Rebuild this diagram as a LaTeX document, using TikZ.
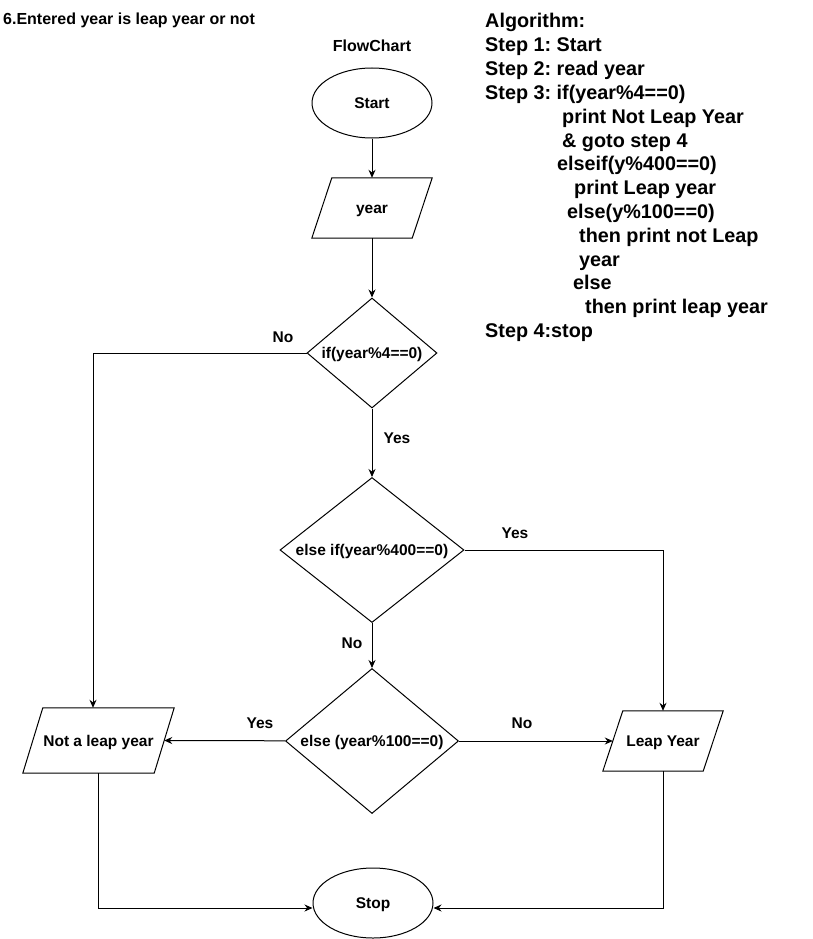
\documentclass[tikz,border=0pt]{standalone}
\usepackage{fontspec}
\setmainfont{Liberation Sans}
\usetikzlibrary{shapes.geometric,arrows.meta,calc}
\frenchspacing
\begin{document}
\begin{tikzpicture}[x=1pt,y=-1pt,
  every node/.style={font=\bfseries\fontsize{15.5}{18}\selectfont, inner sep=0pt,
                     text height=11pt, text depth=0pt},
  term/.style={draw, ellipse, minimum width=120pt, minimum height=70pt, line width=1pt},
  dec/.style={draw, diamond, line width=1pt},
  arr/.style={line width=1pt, -{Stealth[length=8pt,width=7pt]}},
  ln/.style={line width=1pt},
  alg/.style={anchor=base west, font=\bfseries\fontsize{19.8}{24}\selectfont},
  ttl/.style={font=\bfseries\fontsize{16}{19}\selectfont}
]
\path[use as bounding box] (0,0) rectangle (813,939);

% titles
\node[ttl, anchor=base west] (title) at (3,25) {6.Entered year is leap year or not};
\node[ttl, anchor=base] (fc) at (372,52) {FlowChart};

% algorithm
\node[alg] (a0) at (485,28) {Algorithm:};
\node[alg] (a1) at (485,51.8) {Step 1: Start};
\node[alg] (a2) at (485,75.6) {Step 2: read year};
\node[alg] (a3) at (485,99.4) {Step 3: if(year\%4==0)};
\node[alg] (a4) at (562,123.2) {print Not Leap Year};
\node[alg] (a5) at (562,147) {\& goto step 4};
\node[alg] (a6) at (557,170.8) {elseif(y\%400==0)};
\node[alg] (a7) at (574,194.6) {print Leap year};
\node[alg] (a8) at (567,218.4) {else(y\%100==0)};
\node[alg] (a9) at (579,242.2) {then print not Leap};
\node[alg] (a10) at (579,266) {year};
\node[alg] (a11) at (573,289.8) {else};
\node[alg] (a12) at (585,313.6) {then print leap year};
\node[alg] (a13) at (485,337.4) {Step 4:stop};

% flowchart nodes
\node[term] (start) at (372,103) {Start};
\node[minimum width=120pt, minimum height=60pt] (year) at (372,208) {year};
\draw[ln] (year.south west) -- ($(year.south east)+(-20,0)$) -- (year.north east)
          -- ($(year.north west)+(20,0)$) -- cycle;
\node[dec, aspect=1.18, minimum width=130pt, minimum height=110pt] (d1) at (372,353) {if(year\%4==0)};
\node[dec, aspect=1.27, minimum width=184pt, minimum height=145pt] (d2) at (372,550) {else if(year\%400==0)};
\node[dec, aspect=1.19, minimum width=173pt, minimum height=145pt] (d3) at (372,741) {else (year\%100==0)};
\node[minimum width=151pt, minimum height=65pt] (ny) at (98.5,740.5) {Not a leap year};
\draw[ln] (ny.south west) -- ($(ny.south east)+(-20,0)$) -- (ny.north east)
          -- ($(ny.north west)+(20,0)$) -- cycle;
\node[minimum width=120pt, minimum height=60pt] (ly) at (663,741) {Leap Year};
\draw[ln] (ly.south west) -- ($(ly.south east)+(-20,0)$) -- (ly.north east)
          -- ($(ly.north west)+(20,0)$) -- cycle;
\node[term] (stop) at (373,903) {Stop};

% labels
\node (l1) at (283,337) {No};
\node (l2) at (397,438) {Yes};
\node (l3) at (515,533) {Yes};
\node (l4) at (352,643) {No};
\node (l5) at (260,723) {Yes};
\node (l6) at (522,723) {No};

% connectors
\draw[arr] (start) -- (year);
\draw[arr] (year) -- (d1);
\draw[arr] (d1.west) -| ($(ny.north)+(-5.5,0)$);
\draw[arr] (d1) -- (d2);
\draw[arr] (d2.east) -| (ly.north);
\draw[arr] (d2) -- (d3);
\draw[arr] (d3) -- ($(ny.east)+(-10,0)$);
\draw[arr] (d3) -- ($(ly.west)+(10,0)$);
\draw[arr] (ny.south) |- ($(stop.west)+(0,5)$);
\draw[arr] (ly.south) |- ($(stop.east)+(0,5)$);
\end{tikzpicture}
\end{document}
